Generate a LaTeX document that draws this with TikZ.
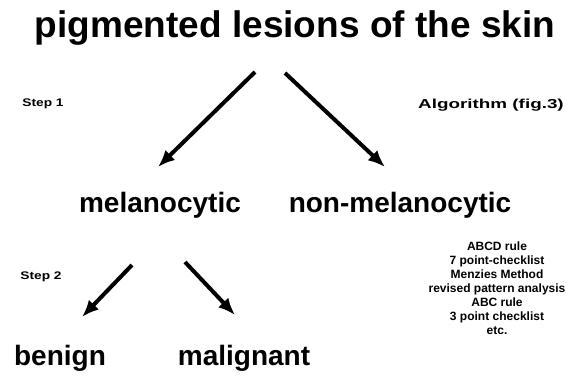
\documentclass[tikz,border=0pt]{standalone}
\usepackage{fontspec}
\setmainfont{Liberation Sans}
\usetikzlibrary{arrows.meta,positioning}

\begin{document}
\begin{tikzpicture}[x=1pt,y=-1pt,>={Latex[length=17pt,width=14pt]}, every node/.style={inner sep=0pt}]
\tikzstyle{big}=[font=\bfseries\fontsize{28}{32}\selectfont]
\tikzstyle{small}=[font=\bfseries\fontsize{11}{13}\selectfont]
\tikzstyle{arr}=[->,line width=4pt]
\useasboundingbox (0,0) rectangle (572,381);
\node[font=\bfseries\fontsize{37}{42}\selectfont] (lesions) at (295,28) {pigmented lesions of the skin};
\node[big] (melano) at (160,205) {melanocytic};
\node[big] (nonmelano) at (400,205) {non-melanocytic};
\node[big] (benign) at (60,358) {benign};
\node[big] (malignant) at (244,358) {malignant};
\node[small] (step1) at (43,104) {\scalebox{1.25}[1]{Step 1}};
\node[small] (step2) at (41,277) {\scalebox{1.25}[1]{Step 2}};
\node[font=\bfseries\fontsize{13}{15}\selectfont] (algo) at (491,105) {\scalebox{1.45}[1]{Algorithm (fig.3)}};
\node[font=\bfseries\fontsize{12}{14}\selectfont,align=center] (methods) at (497,288)
  {ABCD rule\\7 point-checklist\\Menzies Method\\revised pattern analysis\\ABC rule\\3 point checklist\\etc.};
% step 1
\draw[arr] ([xshift=-40pt,yshift=-44pt]lesions.center) -- ([xshift=-2pt,yshift=38pt]melano.center);
\draw[arr] ([xshift=-10pt,yshift=-45pt]lesions.center) -- ([xshift=-15pt,yshift=38pt]nonmelano.center);
% step 2
\draw[arr] ([xshift=-28pt,yshift=-60pt]melano.center) -- ([xshift=22pt,yshift=41pt]benign.center);
\draw[arr] ([xshift=25pt,yshift=-57pt]melano.center) -- ([xshift=-9pt,yshift=43pt]malignant.center);
\end{tikzpicture}
\end{document}
